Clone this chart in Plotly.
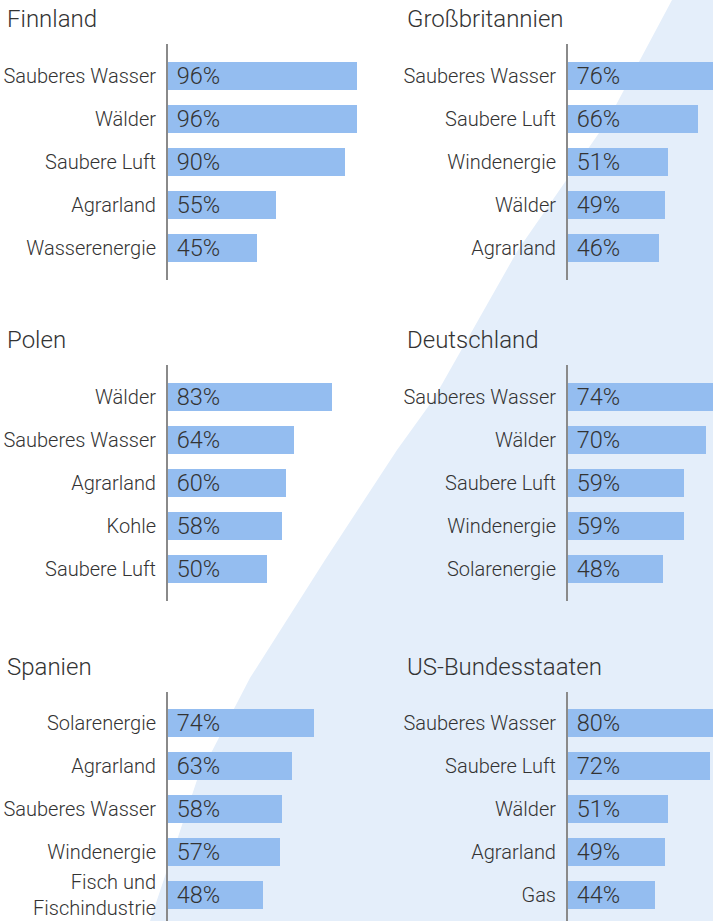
import plotly.graph_objects as go

W, H = 713, 921

# ---- data ----
titles = ["Finnland", "Großbritannien", "Polen", "Deutschland", "Spanien", "US-Bundesstaaten"]

cats_fi = ["Sauberes Wasser", "Wälder", "Saubere Luft", "Agrarland", "Wasserenergie"]
vals_fi = [96, 96, 90, 55, 45]

cats_gb = ["Sauberes Wasser", "Saubere Luft", "Windenergie", "Wälder", "Agrarland"]
vals_gb = [76, 66, 51, 49, 46]

cats_pl = ["Wälder", "Sauberes Wasser", "Agrarland", "Kohle", "Saubere Luft"]
vals_pl = [83, 64, 60, 58, 50]

cats_de = ["Sauberes Wasser", "Wälder", "Saubere Luft", "Windenergie", "Solarenergie"]
vals_de = [74, 70, 59, 59, 48]

cats_es = ["Solarenergie", "Agrarland", "Sauberes Wasser", "Windenergie", "Fisch und<br>Fischindustrie"]
vals_es = [74, 63, 58, 57, 48]

cats_us = ["Sauberes Wasser", "Saubere Luft", "Wälder", "Agrarland", "Gas"]
vals_us = [80, 72, 51, 49, 44]

panels = [
    (cats_fi, vals_fi), (cats_gb, vals_gb),
    (cats_pl, vals_pl), (cats_de, vals_de),
    (cats_es, vals_es), (cats_us, vals_us),
]

# ---- styling ----
BAR = "#94bdf0"
BG = "#e4eefa"
TXT = "#333333"
FONT = "Roboto"
PX_PER_PCT = 1.97
ROW_PX = 43.0

col_axis_px = [168, 568]
col_right_px = [390, 713]
col_title_px = [5, 405]
row_top_px = [44, 365, 692]
row_bot_px = [280, 601, 921]
row_first_px = [76, 397, 723]
row_title_px = [19, 340, 667]

fig = go.Figure()
annotations = []

for i, (cats, vals) in enumerate(panels):
    r, c = divmod(i, 2)
    n = i + 1
    xa = "x" if n == 1 else f"x{n}"
    ya = "y" if n == 1 else f"y{n}"
    fig.add_trace(go.Bar(
        x=vals, y=list(range(len(cats))), orientation="h",
        marker=dict(color=BAR, line=dict(width=0)),
        width=0.63,
        text=[f" {v}%" for v in vals],
        textposition="inside", insidetextanchor="start",
        constraintext="none",
        textfont=dict(family=FONT, size=23.5, color=TXT, weight=300),
        xaxis=xa, yaxis=ya, showlegend=False, hoverinfo="skip",
    ))
    top, bot, first = row_top_px[r], row_bot_px[r], row_first_px[r]
    a = (first - top) / ROW_PX
    b = (bot - top) / ROW_PX - a
    xl, xr = col_axis_px[c], col_right_px[c]
    xkey = "xaxis" if n == 1 else f"xaxis{n}"
    ykey = "yaxis" if n == 1 else f"yaxis{n}"
    fig.layout[xkey] = dict(
        domain=[xl / W, xr / W], range=[0, (xr - xl) / PX_PER_PCT],
        visible=False, fixedrange=True, anchor=ya, automargin=False,
    )
    fig.layout[ykey] = dict(
        domain=[(H - bot) / H, (H - top) / H], range=[b, -a],
        tickvals=list(range(len(cats))), ticktext=cats,
        showline=True, linecolor="#8a8a8a", linewidth=2,
        showgrid=False, zeroline=False, ticks="",
        ticklabelstandoff=6, automargin=False,
        tickfont=dict(family=FONT, size=20, color=TXT, weight=300),
        anchor=xa, fixedrange=True,
    )
    annotations.append(dict(
        text=titles[i], xref="paper", yref="paper",
        x=col_title_px[c] / W, y=1 - row_title_px[r] / H,
        xanchor="left", yanchor="middle", showarrow=False,
        font=dict(family=FONT, size=24, color=TXT, weight=300),
    ))

# light-blue background area (decorative)
edge = [(672, 0), (608, 120), (518, 250), (433, 400), (397, 450),
        (325, 560), (250, 678), (197, 780), (150, 921)]
pts = edge + [(W, H), (W, 0)]
path = "M " + " L ".join(f"{x / W:.4f},{1 - y / H:.4f}" for x, y in pts) + " Z"

fig.update_layout(
    width=W, height=H,
    margin=dict(l=0, r=0, t=0, b=0, autoexpand=False),
    paper_bgcolor="white", plot_bgcolor="rgba(0,0,0,0)",
    annotations=annotations,
    shapes=[dict(type="path", path=path, xref="paper", yref="paper",
                 fillcolor=BG, line=dict(width=0), layer="below")],
    bargap=0,
)

fig.write_html("out.html")
